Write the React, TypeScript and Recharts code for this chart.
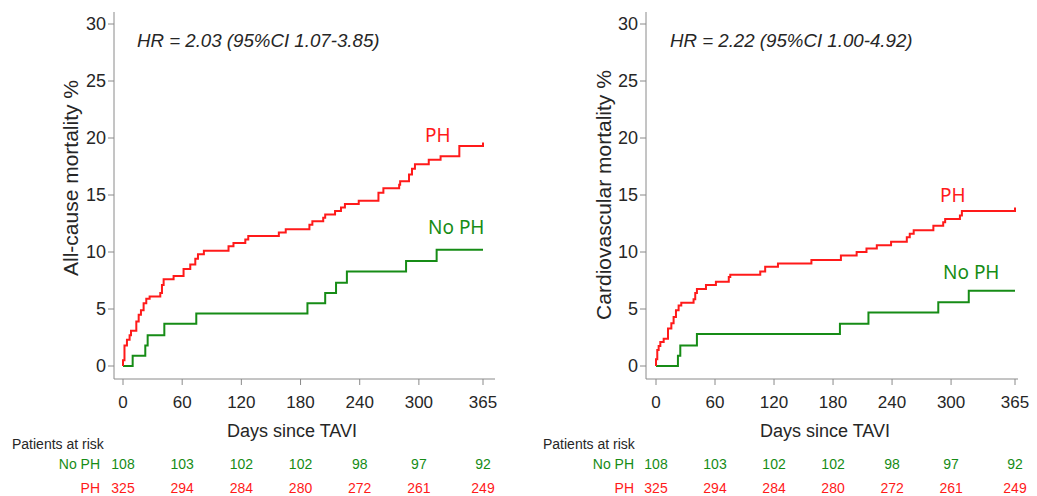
import { LineChart, Line, XAxis, YAxis } from 'recharts';

const xTicks = [0, 60, 120, 180, 240, 300, 365];
const yTicks = [0, 5, 10, 15, 20, 25, 30];

// All-cause mortality, PH
const acPhDays = [0, 0, 1.5, 4, 6.7, 8.1, 13.5, 15.9, 18.2, 20.9, 23.6, 27, 37.8, 39.5, 41.2, 51.3, 61.4, 68.2, 73.3, 76, 82, 107, 112, 124, 127, 158, 165, 189, 192, 203, 205, 215, 221, 225, 239, 259, 264, 280, 281, 290, 293, 296, 310, 322, 341, 365];
const acPhPct = [0, 0.5, 1.8, 2.3, 2.7, 3.1, 3.9, 4.5, 4.9, 5.5, 5.9, 6.1, 6.4, 7.1, 7.6, 7.9, 8.5, 8.9, 9.4, 9.8, 10.1, 10.5, 10.8, 11.1, 11.4, 11.7, 12.0, 12.4, 12.7, 13.0, 13.3, 13.6, 13.9, 14.2, 14.5, 15.2, 15.6, 15.9, 16.2, 16.8, 17.3, 17.7, 18.1, 18.4, 19.3, 19.6];

// All-cause mortality, No PH
const acNoPhDays = [0, 9.8, 22.6, 25, 41.9, 74.3, 187, 205, 216, 227, 287, 318, 365];
const acNoPhPct = [0, 0.9, 1.8, 2.7, 3.7, 4.6, 5.5, 6.4, 7.3, 8.3, 9.2, 10.2, 10.2];

// Cardiovascular mortality, PH
const cvPhDays = [0, 0, 1.3, 2.7, 4.4, 7.8, 12.2, 15.6, 17.9, 20.3, 23, 25.7, 38.2, 39.9, 41.6, 50.8, 60.9, 74, 75.5, 106, 111, 124, 158, 188, 204, 214, 224.5, 239, 255, 258, 262, 282, 292, 294, 309, 311, 365];
const cvPhPct = [0, 0.6, 1.4, 1.75, 2.1, 2.4, 3.3, 3.75, 4.3, 4.9, 5.3, 5.55, 5.85, 6.4, 6.75, 7.1, 7.4, 7.8, 8.0, 8.3, 8.7, 9.0, 9.3, 9.7, 10.0, 10.3, 10.6, 10.9, 11.3, 11.6, 11.9, 12.3, 12.6, 12.9, 13.2, 13.6, 13.9];

// Cardiovascular mortality, No PH
const cvNoPhDays = [0, 22.3, 24.7, 41.6, 187, 216, 287, 318, 365];
const cvNoPhPct = [0, 0.9, 1.8, 2.8, 3.7, 4.7, 5.6, 6.6, 6.6];

const riskNoPh = [108, 103, 102, 102, 98, 97, 92];
const riskPh = [325, 294, 284, 280, 272, 261, 249];

const RED = '#ff1a1a';
const GREEN = '#168c16';
const AXIS = '#8a8a8a';
const TEXT = '#262626';
const FONT = '"Liberation Sans", Arial, sans-serif';

const toPoints = (days: number[], pct: number[]) =>
  days.map((d, i) => ({ day: d, pct: pct[i] }));

type PanelProps = {
  left: number;
  width: number;
  yWidth: number;
  marginRight: number;
  padLeft: number;
  padRight: number;
  ph: { day: number; pct: number }[];
  noPh: { day: number; pct: number }[];
};

const TOP = 12;
const AXIS_Y = 379;
const H = 496;
const X_H = 60;

function Panel(p: PanelProps) {
  return (
    <div style={{ position: 'absolute', left: p.left, top: 0 }}>
      <LineChart
        width={p.width}
        height={H}
        margin={{ top: TOP, right: p.marginRight, left: 0, bottom: H - AXIS_Y - X_H }}
      >
        <XAxis
          type="number"
          dataKey="day"
          domain={[0, 365]}
          ticks={xTicks}
          interval={0}
          padding={{ left: p.padLeft, right: p.padRight }}
          height={X_H}
          tickSize={6}
          tickMargin={11}
          stroke={AXIS}
          tick={{ fontSize: 17, fill: TEXT, fontFamily: FONT }}
        />
        <YAxis
          type="number"
          domain={[0, 30]}
          ticks={yTicks}
          interval={0}
          padding={{ top: 12, bottom: 13 }}
          width={p.yWidth}
          tickSize={6}
          tickMargin={2}
          stroke={AXIS}
          tick={{ fontSize: 18, fill: TEXT, fontFamily: FONT }}
        />
        <Line
          data={p.noPh}
          dataKey="pct"
          type="stepAfter"
          stroke={GREEN}
          strokeWidth={2}
          dot={false}
          isAnimationActive={false}
        />
        <Line
          data={p.ph}
          dataKey="pct"
          type="stepAfter"
          stroke={RED}
          strokeWidth={2}
          dot={false}
          isAnimationActive={false}
        />
      </LineChart>
    </div>
  );
}

// x position of a day on a panel's axis, for the risk table
const dayX = (x0: number, x365: number, d: number) => x0 + (d / 365) * (x365 - x0);

function RiskTable({ x0, x365, labelRight, titleLeft }: { x0: number; x365: number; labelRight: number; titleLeft: number }) {
  return (
    <g fontFamily={FONT} fontSize={14}>
      <text x={titleLeft} y={449} fill={TEXT}>Patients at risk</text>
      <text x={labelRight} y={469} fill={GREEN} textAnchor="end">No PH</text>
      <text x={labelRight} y={493} fill={RED} textAnchor="end">PH</text>
      {xTicks.map((d, i) => (
        <text key={'n' + d} x={dayX(x0, x365, d)} y={469} fill={GREEN} textAnchor="middle">{riskNoPh[i]}</text>
      ))}
      {xTicks.map((d, i) => (
        <text key={'p' + d} x={dayX(x0, x365, d)} y={493} fill={RED} textAnchor="middle">{riskPh[i]}</text>
      ))}
    </g>
  );
}

export default function App() {
  return (
    <div style={{ position: 'absolute', left: 0, top: 0, width: 1037, height: 496, background: '#fff', overflow: 'hidden' }}>
      <Panel
        left={0}
        width={518}
        yWidth={114}
        marginRight={23}
        padLeft={9}
        padRight={12}
        ph={toPoints(acPhDays, acPhPct)}
        noPh={toPoints(acNoPhDays, acNoPhPct)}
      />
      <Panel
        left={518}
        width={519}
        yWidth={128}
        marginRight={19}
        padLeft={10}
        padRight={3}
        ph={toPoints(cvPhDays, cvPhPct)}
        noPh={toPoints(cvNoPhDays, cvNoPhPct)}
      />
      <svg width={1037} height={496} style={{ position: 'absolute', left: 0, top: 0, pointerEvents: 'none' }}>
        <g fontFamily={FONT} fill={TEXT}>
          <text x={137} y={47} fontSize={18.7} fontStyle="italic">HR = 2.03 (95%CI 1.07-3.85)</text>
          <text x={670} y={47} fontSize={18.7} fontStyle="italic">HR = 2.22 (95%CI 1.00-4.92)</text>
          <text x={292} y={437} fontSize={18} textAnchor="middle">Days since TAVI</text>
          <text x={825} y={437} fontSize={18} textAnchor="middle">Days since TAVI</text>
          <text transform="translate(78,178) rotate(-90)" fontSize={21} textAnchor="middle">All-cause mortality %</text>
          <text transform="translate(611,195) rotate(-90)" fontSize={21} textAnchor="middle">Cardiovascular mortality %</text>
        </g>
        <g fontFamily='"Noto Sans", sans-serif' fontSize={19}>
          <text x={425} y={142} fill={RED}>PH</text>
          <text x={428} y={234} fill={GREEN}>No PH</text>
          <text x={940} y={202} fill={RED}>PH</text>
          <text x={943} y={279} fill={GREEN}>No PH</text>
        </g>
        <RiskTable x0={123} x365={483} labelRight={100} titleLeft={12} />
        <RiskTable x0={656} x365={1015} labelRight={634} titleLeft={543} />
      </svg>
    </div>
  );
}
